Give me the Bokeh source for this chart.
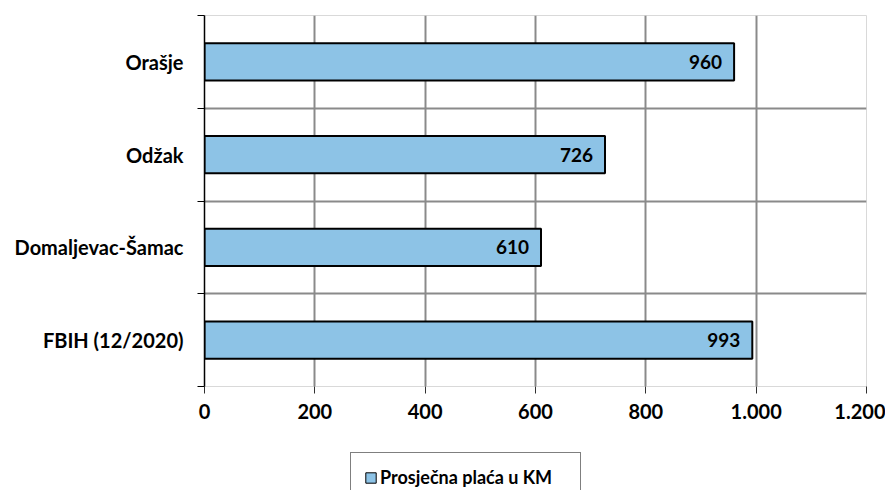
from bokeh.plotting import figure
from bokeh.layouts import column
from bokeh.models import FixedTicker, Legend, LegendItem, ColumnDataSource, LabelSet
from bokeh.core.properties import value
from bokeh.embed import file_html
from bokeh.resources import INLINE

# categories listed bottom to top
categories = ["FBIH (12/2020)", "Domaljevac-Šamac", "Odžak", "Orašje"]
values = [993, 610, 726, 960]
x_ticks = [0, 200, 400, 600, 800, 1000, 1200]
series_name = "Prosječna plaća u KM"

n = len(categories)
y_pos = list(range(n))
src = ColumnDataSource(dict(y=y_pos, v=values, lab=[str(v) for v in values], cat=categories))

FONT = "Lato"
GRID = "#8A8A8A"
BAR_FILL = "#8DC3E6"

p = figure(width=885, height=450, x_range=(0, x_ticks[-1]), y_range=(-0.5, n - 0.5),
           output_backend="svg", toolbar_location=None,
           min_border_left=204, min_border_right=19, min_border_top=15, min_border_bottom=64)
p.background_fill_color = "white"
p.border_fill_color = "white"
p.outline_line_color = "#D9D9D9"
p.outline_line_width = 1

r = p.hbar(y="y", right="v", left=0, height=0.4, source=src,
           fill_color=BAR_FILL, line_color="black", line_width=2)

labels = LabelSet(x="v", y="y", text="lab", source=src, x_offset=-12,
                  text_align="right", text_baseline="middle",
                  text_font=value(FONT), text_font_style="bold", text_font_size="19px",
                  text_color="black")
p.add_layout(labels)

# y axis
yax = p.yaxis[0]
yax.ticker = FixedTicker(ticks=y_pos, minor_ticks=[i - 0.5 for i in range(n + 1)])
yax.major_label_overrides = {i: c for i, c in zip(y_pos, categories)}
yax.major_tick_line_color = None
yax.major_tick_out = 6
yax.major_tick_in = 0
yax.minor_tick_line_color = "black"
yax.minor_tick_out = 7
yax.minor_tick_in = 0
yax.minor_tick_line_width = 1
yax.axis_line_color = "black"
yax.axis_line_width = 1.5
yax.major_label_standoff = 14
yax.major_label_text_font = FONT
yax.major_label_text_font_style = "bold"
yax.major_label_text_font_size = "20px"
yax.major_label_text_color = "black"

# x axis
xax = p.xaxis[0]
xax.ticker = FixedTicker(ticks=x_ticks)
xax.major_label_overrides = {t: f"{t:,}".replace(",", ".") for t in x_ticks}
xax.axis_line_color = None
xax.major_tick_line_color = "#303030"
xax.major_tick_out = 7
xax.major_tick_in = 0
xax.minor_tick_line_color = None
xax.major_label_standoff = 10
xax.major_label_text_font = FONT
xax.major_label_text_font_style = "bold"
xax.major_label_text_font_size = "20px"
xax.major_label_text_color = "black"

# grids
p.xgrid.ticker = FixedTicker(ticks=x_ticks[1:-1])
p.xgrid.grid_line_color = GRID
p.xgrid.grid_line_width = 2
p.ygrid.ticker = FixedTicker(ticks=[i - 0.5 for i in range(n)])
p.ygrid.grid_line_color = GRID
p.ygrid.grid_line_width = 2

# legend strip below the chart (its key renderer uses the same series, kept out of view)
p2 = figure(width=885, height=40, x_range=(0, 1), y_range=(n + 10, n + 11),
            x_axis_type=None, y_axis_type=None,
            output_backend="svg", toolbar_location=None, min_border=0)
p2.outline_line_color = None
p2.background_fill_color = "white"
p2.border_fill_color = "white"
key = p2.hbar(y="y", right="v", left=0, height=0.4, source=src,
              fill_color=BAR_FILL, line_color="black", line_width=1)

legend = Legend(items=[LegendItem(label=series_name, renderers=[key])],
                location=(146, -12), orientation="horizontal",
                padding=13, spacing=0, margin=0,
                glyph_width=13, glyph_height=13, label_standoff=3,
                label_height=18, label_width=187,
                label_text_font=FONT, label_text_font_style="bold",
                label_text_font_size="18px", label_text_color="black",
                border_line_color="black", border_line_width=1,
                background_fill_color="white", background_fill_alpha=1)
p2.add_layout(legend)

layout = column(p, p2, spacing=0)
open("out.html", "w").write(file_html(layout, INLINE))
